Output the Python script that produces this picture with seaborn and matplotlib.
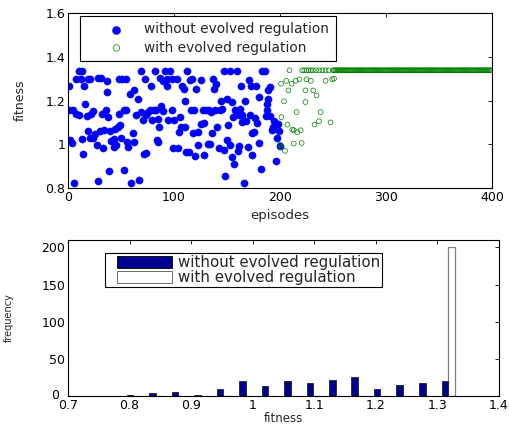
import numpy as np
import pandas as pd
import matplotlib
matplotlib.use("Agg")
import matplotlib.pyplot as plt
import matplotlib.transforms as mtransforms
from matplotlib.patches import Rectangle
from matplotlib.legend_handler import HandlerPatch
import seaborn as sns

# ---------------- data ----------------
blue_ep = [0.6, 1, 2, 4, 5, 6, 8, 10, 8, 10.5, 13, 12, 13, 14, 15, 16, 17.5, 19, 19, 21,
           21, 22, 24, 24, 25.5, 27, 28, 31, 28.7, 30, 32, 33, 34, 35.7, 36.6, 37, 38, 39, 40, 41,
           43, 43.6, 44.6, 45, 47, 48, 48.4, 49.4, 50, 51, 52.5, 53, 55, 55, 56, 57, 58.6, 59.6, 61, 62,
           62.7, 64, 66, 66.6, 68.5, 69, 70.7, 71.6, 73, 74, 74, 75.5, 77.7, 78.7, 79.3, 81, 82, 83, 83.8, 85,
           85, 86, 87, 88, 90, 90, 91.4, 93, 93.6, 94.6, 96, 97.8, 98.4, 99.4, 100.3, 102.5, 104, 104.8, 106, 107,
           108, 109, 110.5, 110.5, 111.5, 112.7, 113.7, 115, 116, 117, 117.5, 119, 120, 121, 122.6, 123, 125, 125.8, 127, 128,
           128.7, 130, 132, 133, 134, 135, 136, 137, 138, 139, 140, 141, 142.4, 143, 144, 145.5, 147, 147, 148, 149.7,
           150, 151, 153, 153, 154.5, 155, 155.7, 156.7, 158, 159, 160, 161, 161.5, 162.4, 163, 164, 164.6, 166, 167, 168,
           169.4, 171, 171.7, 172.6, 173.6, 174, 175, 176, 177, 178.3, 180, 180.5, 182, 183,
           185.6, 186.5, 187.5, 188, 188.7, 189, 190.6, 191, 192, 193.7, 194.3, 196, 197, 198, 199, 200]
blue_fit = [1.265, 1.155, 1.02, 1.005, 1.157, 0.823, 1.14, 1.132, 1.297, 1.336, 1.336, 1.297, 1.024, 0.955, 1.265, 1.185, 1.128, 1.06, 1.297, 1.297,
            1.03, 1.14, 1.152, 1.03, 1.048, 0.995, 1.304, 1.304, 0.83, 1.06, 1.14, 0.983, 1.064, 1.155, 1.29, 1.237, 1.124, 0.876, 1.06, 1.015,
            1.025, 0.987, 1.07, 0.995, 1.078, 1.14, 1.3, 1.09, 1.03, 1.297, 1.157, 0.884, 1.157, 1.297, 1.01, 0.987, 1.228, 0.823, 1.051, 1.01,
            1.25, 1.132, 1.208, 0.838, 1.147, 1.336, 1.112, 0.955, 1.297, 0.96, 1.132, 1.147, 1.157, 1.265, 1.112, 1.157, 1.336, 1.155, 1.018, 1.01,
            1.117, 1.081, 1.304, 1.175, 1.288, 1.152, 1.336, 1.268, 1.3, 1.109, 1.336, 1.298, 1.155, 0.983, 1.112, 1.297, 0.983, 1.054, 1.124, 1.081,
            1.265, 1.254, 1.081, 1.196, 0.965, 1.336, 0.965, 1.295, 1.155, 1.3, 1.051, 1.155, 0.945, 1.254, 1.054, 0.995, 1.295, 1.094, 1.155, 1.097,
            0.95, 1.155, 1.0, 1.155, 1.0, 1.147, 1.051, 1.297, 1.254, 1.157, 1.274, 1.081, 0.983, 1.157, 1.196, 1.16, 1.336, 0.975, 0.855, 1.018,
            1.208, 1.086, 1.336, 0.998, 1.193, 0.942, 1.124, 0.911, 1.155, 1.336, 0.968, 0.99, 1.132, 1.16, 1.265, 1.132, 1.1, 0.823, 1.2, 1.105,
            0.987, 1.292, 1.132, 1.265, 1.051, 0.95, 1.056, 1.121, 1.265, 1.097, 1.005, 1.216, 0.888, 1.335,
            1.336, 1.13, 1.157, 1.185, 1.208, 1.25, 1.13, 1.262, 1.067, 1.08, 1.106, 0.923, 1.03, 1.094, 1.06, 0.99]

green_ep = [201, 206, 208, 211, 214.8, 218.5, 225, 229, 224, 231.4, 234.5, 203.8, 224, 215.7, 238.3, 201.3,
            236.7, 247.7, 232.6, 207, 211.6, 213, 219.5, 216.3, 200, 201.3, 204.7, 213, 220.4, 243, 249.3, 251]
green_fit = [1.277, 1.29, 1.246, 1.277, 1.29, 1.297, 1.297, 1.29, 1.246, 1.246, 1.223, 1.196, 1.193, 1.147, 1.147, 1.124,
             1.105, 1.1, 1.09, 1.09, 1.067, 1.064, 1.064, 1.055, 0.998, 0.987, 0.97, 1.003, 1.006, 1.29, 1.297, 1.3]
plateau_ep = [209, 221, 223, 225, 227, 229, 231, 234, 237, 240, 243, 246] + list(range(250, 401))
plateau_fit = 1.338

hist_centers = [0.806, 0.8425, 0.879, 0.9155, 0.952, 0.9885, 1.025, 1.0615, 1.098, 1.1345,
                1.171, 1.2075, 1.244, 1.2805, 1.3175]
hist_without = [2, 4, 5, 2, 10, 20, 13, 20, 18, 22, 25, 9, 15, 17, 20]
hist_with_center = [1.3175]
hist_with = [200]

lab_without = "without evolved regulation"
lab_with = "with evolved regulation"

assert len(blue_ep) == len(blue_fit)
assert len(green_ep) == len(green_fit)

# ---------------- styling ----------------
sns.set_style("white")
plt.rcParams["font.family"] = ["DejaVu Sans"]
plt.rcParams["xtick.direction"] = "in"
plt.rcParams["ytick.direction"] = "in"

DPI = 100
fig = plt.figure(figsize=(5.09, 4.25), dpi=DPI)
ax1 = fig.add_axes([68 / 509, 1 - 188 / 425, (492 - 68) / 509, (188 - 13) / 425])
ax2 = fig.add_axes([68 / 509, 1 - 396 / 425, (499 - 68) / 509, (396 - 240) / 425])
renderer = fig.canvas.get_renderer()


def fit_fontsize(text, target_px, base=10.0):
    t = fig.text(0, 0, text, fontsize=base)
    w = t.get_window_extent(renderer).width
    t.remove()
    return base * target_px / w


for ax in (ax1, ax2):
    for s in ax.spines.values():
        s.set_color("black")
        s.set_linewidth(0.8)
    ax.tick_params(top=True, right=True, length=3, width=0.6, labelsize=9, pad=2,
                   colors="black")

# ---------------- top scatter ----------------
df_blue = pd.DataFrame({"episodes": blue_ep, "fitness": blue_fit})
df_green = pd.DataFrame({"episodes": list(green_ep) + plateau_ep,
                         "fitness": list(green_fit) + [plateau_fit] * len(plateau_ep)})

sns.scatterplot(data=df_blue, x="episodes", y="fitness", ax=ax1, color="#0000ff",
                edgecolor="#0000ff", s=27, linewidth=0.3, marker="o", label=lab_without)
sns.scatterplot(data=df_green, x="episodes", y="fitness", ax=ax1, color="#008000",
                s=12, linewidth=0.5, marker="o", label=lab_with)
coll = ax1.collections[1]
coll.set_facecolor("none")
coll.set_edgecolor("#008000")

ax1.set_xlim(0, 400)
ax1.set_ylim(0.8, 1.6)
ax1.set_xticks([0, 100, 200, 300, 400])
ax1.set_yticks([0.8, 1.0, 1.2, 1.4, 1.6])
ax1.set_yticklabels(["0.8", "1", "1.2", "1.4", "1.6"])
ax1.set_xlabel("episodes", fontsize=9.5, labelpad=4)
ax1.set_ylabel("fitness", fontsize=9, labelpad=13)

# top legend: frame x 80..339, text 146..331, marker centre at 118
fs1 = fit_fontsize(lab_without, 185)
em1 = fs1 * DPI / 72
pad1 = 8 / em1
hl1 = 60 / em1
tp1 = -2 / em1
leg1 = ax1.legend(loc="upper left", bbox_to_anchor=(12 / 424, 1 - 3 / 175), fontsize=fs1,
                  frameon=True, fancybox=False, edgecolor="black", framealpha=1,
                  borderpad=pad1 * 0.8, handletextpad=tp1, labelspacing=0.3,
                  handlelength=hl1, borderaxespad=0)
leg1.get_frame().set_linewidth(0.8)
h = leg1.legend_handles
h[1].set_facecolor("none")
h[1].set_edgecolor("#008000")
h[1].set_sizes([22])
h[0].set_sizes([34])

# ---------------- bottom histogram ----------------
width = 0.03654
edges = [c - width / 2 for c in hist_centers] + [hist_centers[-1] + width / 2]
df_hist = pd.DataFrame({
    "fitness": list(hist_centers) + list(hist_with_center),
    "count": list(hist_without) + list(hist_with),
    "series": [lab_without] * len(hist_centers) + [lab_with] * len(hist_with_center),
})
sns.histplot(data=df_hist, x="fitness", weights="count", hue="series", bins=edges,
             multiple="dodge", shrink=0.58, ax=ax2,
             palette={lab_without: "#000090", lab_with: "white"},
             alpha=1, edgecolor="#222222", linewidth=0.6, legend=True)
for p in ax2.patches:
    fc = p.get_facecolor()
    if fc[0] > 0.9 and fc[1] > 0.9:
        p.set_edgecolor("#808080")
        p.set_linewidth(0.9)

ax2.set_xlim(0.7, 1.4)
ax2.set_ylim(0, 210)
ax2.set_xticks([0.7, 0.8, 0.9, 1.0, 1.1, 1.2, 1.3, 1.4])
ax2.set_xticklabels(["0.7", "0.8", "0.9", "1", "1.1", "1.2", "1.3", "1.4"])
ax2.set_yticks([0, 50, 100, 150, 200])
ax2.tick_params(axis="x", labelsize=9, pad=2)
ax2.tick_params(axis="y", labelsize=9, pad=2)
ax2.set_xlabel("fitness", fontsize=8.5, labelpad=0)
ax2.set_ylabel("frequency", fontsize=7, labelpad=20)

# the "0" label sits a little left of and above the "0.7" label, as in the reference
lbl0 = ax2.get_yticklabels()[0]
lbl0.set_transform(lbl0.get_transform()
                   + mtransforms.ScaledTranslation(-6 / DPI, 2 / DPI, fig.dpi_scale_trans))

# bottom legend: frame x 105..382, patch 117..172, text 178..380
fs2 = fit_fontsize(lab_without, 202)
em2 = fs2 * DPI / 72
pad2 = 2 / em2
patch_off_px = 10
hl2 = 65 / em2
tp2 = 6 / em2


def offset_rect(legend, orig_handle, xdescent, ydescent, width, height, fontsize):
    off = patch_off_px * 72 / DPI  # points
    return Rectangle((-xdescent + off, -ydescent), width - off, height)


old = ax2.get_legend()
handles = old.legend_handles
handles[0].set_edgecolor("black")
handles[0].set_linewidth(0.6)
handles[1].set_edgecolor("#555555")
handles[1].set_linewidth(0.6)
old.remove()
leg2 = ax2.legend(handles, [lab_without, lab_with], loc="upper left",
                  bbox_to_anchor=(37 / 431, 1 - 13 / 156), fontsize=fs2, frameon=True,
                  fancybox=False, edgecolor="black", framealpha=1, borderpad=pad2,
                  handletextpad=tp2, labelspacing=0.0, handlelength=hl2,
                  handleheight=0.8, borderaxespad=0,
                  handler_map={Rectangle: HandlerPatch(patch_func=offset_rect)})
leg2.get_frame().set_linewidth(0.8)

fig.savefig("out.png", dpi=DPI)
